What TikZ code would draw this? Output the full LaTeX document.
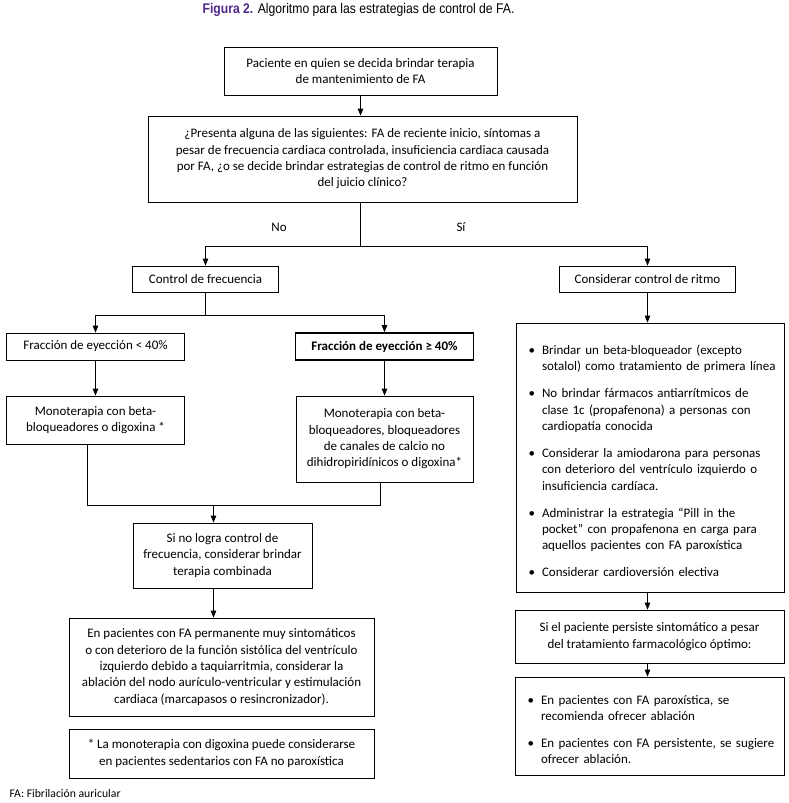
\documentclass[tikz,border=0pt]{standalone}
\usepackage{fontspec}
\setmainfont{Carlito}
\newfontfamily\titlefont{Liberation Sans}
\usepackage{enumitem}
\usetikzlibrary{arrows.meta}
\definecolor{figpurple}{RGB}{80,40,135}
\tikzstyle{box} = [draw, line width=0.8pt, align=center, inner sep=0pt, font=\fontsize{13}{16.3}\selectfont]
\tikzstyle{arrow} = [line width=0.8pt,-{Triangle[length=7pt,width=5.5pt]}]
\tikzstyle{line} = [line width=0.8pt]
\newlist{boxitems}{itemize}{1}
\setlist[boxitems]{label=\textbullet, leftmargin=26pt, labelsep=7pt, itemsep=10.7pt, parsep=0pt, topsep=0pt, partopsep=0pt, before=\raggedright}

\begin{document}
\begin{tikzpicture}[x=1pt,y=-1pt]
	\useasboundingbox (0,0) rectangle (789,803);
	\node[anchor=base] (title) at (358.5,13.5) {\titlefont\fontsize{14}{16}\selectfont\scalebox{0.87}[1]{\textcolor{figpurple}{\textbf{Figura 2.}} Algoritmo para las estrategias de control de FA.}};

	% tronco comun
	\node[box, minimum width=273pt, minimum height=48pt] (start) at (360.5,71) {Paciente en quien se decida brindar terapia\\de mantenimiento de FA};
	\node[box, minimum width=429pt, minimum height=86pt] (ask) at (362.5,159) {¿Presenta alguna de las siguientes: FA de reciente inicio, síntomas a\\pesar de frecuencia cardiaca controlada, insuficiencia cardiaca causada\\por FA, ¿o se decide brindar estrategias de control de ritmo en función\\del juicio clínico?};
	\node[font=\fontsize{13}{14}\selectfont] (no) at (279,227) {No};
	\node[font=\fontsize{13}{14}\selectfont] (si) at (461,227) {Sí};

	% control de frecuencia
	\node[box, minimum width=146pt, minimum height=26pt] (rate) at (205.5,279) {Control de frecuencia};
	\node[box, minimum width=178pt, minimum height=27pt] (efl) at (95.5,346.5) {Fracción de eyección < 40\%};
	\node[box, line width=1.6pt, minimum width=178pt, minimum height=27pt] (efh) at (384.5,346.5) {\textbf{Fracción de eyección ≥ 40\%}};
	\node[box, minimum width=178pt, minimum height=48pt] (monol) at (95.5,420) {Monoterapia con beta-\\bloqueadores o digoxina *};
	\node[box, minimum width=177pt, minimum height=86pt] (monoh) at (384.5,439) {Monoterapia con beta-\\bloqueadores, bloqueadores\\de canales de calcio no\\dihidropiridínicos o digoxina*};
	\node[box, minimum width=179pt, minimum height=65pt] (combo) at (222.5,555.5) {Si no logra control de\\frecuencia, considerar brindar\\terapia combinada};
	\node[box, minimum width=305pt, minimum height=98pt] (avnode) at (221.5,667) {En pacientes con FA permanente muy sintomáticos\\o con deterioro de la función sistólica del ventrículo\\izquierdo debido a taquiarritmia, considerar la\\ablación del nodo aurículo-ventricular y estimulación\\cardiaca (marcapasos o resincronizador).};
	\node[box, minimum width=305pt, minimum height=49pt] (note) at (221.5,753.5) {* La monoterapia con digoxina puede considerarse\\en pacientes sedentarios con FA no paroxística};
	\node[anchor=base west, font=\fontsize{11.7}{13}\selectfont] (abbr) at (6,797) {FA: Fibrilación auricular};

	% control de ritmo
	\node[box, minimum width=176pt, minimum height=26pt] (rhythm) at (647.5,279) {Considerar control de ritmo};
	\node[box, align=left, text width=268pt, minimum height=269pt] (drugs) at (650,457.5) {%
		\begin{boxitems}
			\item Brindar un beta-bloqueador (excepto\\sotalol) como tratamiento de primera línea
			\item No brindar fármacos antiarrítmicos de\\clase 1c (propafenona) a personas con\\cardiopatía conocida
			\item Considerar la amiodarona para personas\\con deterioro del ventrículo izquierdo o\\insuficiencia cardíaca.
			\item Administrar la estrategia “Pill in the\\pocket” con propafenona en carga para\\aquellos pacientes con FA paroxística
			\item Considerar cardioversión electiva
		\end{boxitems}\vspace{8pt}};
	\node[box, minimum width=269pt, minimum height=53pt] (persist) at (649.5,636.5) {Si el paciente persiste sintomático a pesar\\del tratamiento farmacológico óptimo:};
	\node[box, align=left, text width=269pt, minimum height=98pt] (ablat) at (649.5,726) {%
		\begin{boxitems}
			\item En pacientes con FA paroxística, se\\recomienda ofrecer ablación
			\item En pacientes con FA persistente, se sugiere\\ofrecer ablación.
		\end{boxitems}\vspace{3pt}};

	% conectores
	\coordinate (split) at (360.5,246.5);
	\coordinate (ratesplit) at (205.5,315.5);
	\coordinate (jl) at (87.5,505.5);
	\coordinate (jr) at (380.5,505.5);
	\coordinate (jn) at (213.5,505.5);
	\draw[arrow] (start.south -| split) -- (ask.north -| split);
	\draw[line] (ask.south -| split) -- (split);
	\draw[arrow] (split) -| (rate.north);
	\draw[arrow] (split) -| (rhythm.north);
	\draw[line] (rate.south) -- (ratesplit);
	\draw[arrow] (ratesplit) -| (efl.north);
	\draw[arrow] (ratesplit) -| (efh.north);
	\draw[arrow] (efl.south) -- (monol.north);
	\draw[arrow] (efh.south) -- (monoh.north);
	\draw[line] (monol.south -| jl) -- (jl) -- (jr) -- (monoh.south -| jr);
	\draw[arrow] (jn) -- (combo.north -| jn);
	\draw[arrow] (combo.south -| jn) -- (avnode.north -| jn);
	\draw[arrow] (rhythm.south) -- (rhythm.south |- drugs.north);
	\draw[arrow] (drugs.south -| rhythm) -- (persist.north -| rhythm);
	\draw[arrow] (persist.south -| rhythm) -- (ablat.north -| rhythm);
\end{tikzpicture}
\end{document}
